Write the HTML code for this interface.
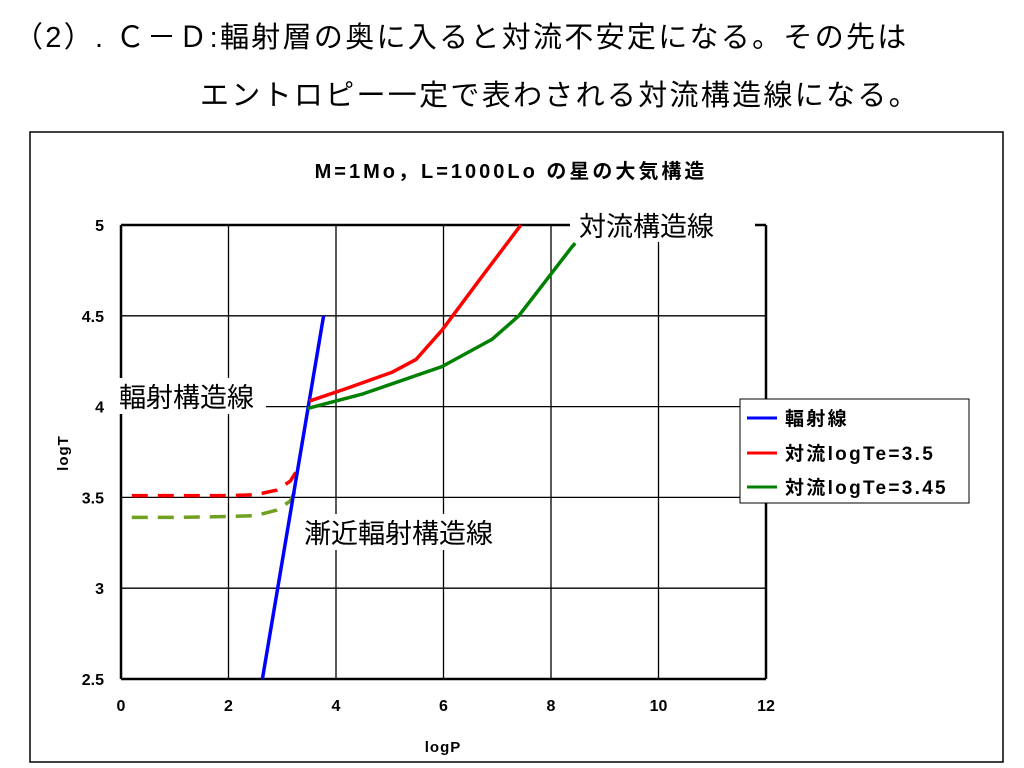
<!DOCTYPE html>
<html><head><meta charset="utf-8"><style>
body{margin:0;width:1024px;height:768px;background:#fff;overflow:hidden;font-family:"Liberation Sans","Noto Sans CJK JP",sans-serif;}
.h{position:absolute;font-size:29px;color:#000;white-space:nowrap;letter-spacing:2.3px;}
</style></head><body>
<div class="h" style="left:14px;top:14px;">（2）. Ｃ－Ｄ:輻射層の奥に入ると対流不安定になる。その先は</div>
<div class="h" style="left:200px;top:72px;">エントロピー一定で表わされる対流構造線になる。</div>
<svg width="1024" height="768" style="position:absolute;left:0;top:0">
<rect x="30" y="132" width="973" height="630" fill="none" stroke="#000" stroke-width="1.5"/>
<text x="511" y="178" text-anchor="middle" font-size="20" font-weight="bold" letter-spacing="3" font-family="Liberation Sans,Noto Sans CJK JP,sans-serif">M=1Mo，L=1000Lo の星の大気構造</text>
<g id="grid"></g><g id="axes"></g><g id="series"></g>
<text x="443" y="752" text-anchor="middle" font-size="15" font-weight="bold" letter-spacing="1" font-family="Liberation Sans,sans-serif">logP</text>
<text transform="translate(68,453) rotate(-90)" text-anchor="middle" font-size="15" font-weight="bold" letter-spacing="1" font-family="Liberation Sans,sans-serif">logT</text>
<g font-family="Liberation Sans,Noto Sans CJK JP,sans-serif" font-size="27">
<rect x="570" y="206" width="185" height="36" fill="#fff"/>
<text x="579" y="236">対流構造線</text>
<rect x="116" y="378" width="150" height="36" fill="#fff"/>
<text x="119" y="407">輻射構造線</text>
<rect x="300" y="514" width="210" height="36" fill="#fff"/>
<text x="304" y="543">漸近輻射構造線</text>
</g>
<g>
<rect x="740" y="399" width="229" height="104" fill="#fff" stroke="#000" stroke-width="1"/>
<line x1="747" y1="418" x2="777" y2="418" stroke="#0000ff" stroke-width="3"/>
<text x="785" y="425" font-size="19" font-weight="bold" letter-spacing="2.3" font-family="Liberation Sans,Noto Sans CJK JP,sans-serif">輻射線</text>
<line x1="747" y1="453" x2="777" y2="453" stroke="#ff0000" stroke-width="3"/>
<text x="785" y="460" font-size="19" font-weight="bold" letter-spacing="2.3" font-family="Liberation Sans,Noto Sans CJK JP,sans-serif">対流logTe=3.5</text>
<line x1="747" y1="487" x2="777" y2="487" stroke="#008000" stroke-width="3"/>
<text x="785" y="494" font-size="19" font-weight="bold" letter-spacing="2.3" font-family="Liberation Sans,Noto Sans CJK JP,sans-serif">対流logTe=3.45</text>
</g>
</svg>
<script>
const xTicks=[0,2,4,6,8,10,12];
const yTicks=[2.5,3,3.5,4,4.5,5];
const radP=[2.63,3.77], radT=[2.5,4.5];
const redP=[3.5,4.2,5.05,5.49,5.97,6.7,7.44], redT=[4.03,4.1,4.19,4.26,4.42,4.71,5.0];
const grnP=[3.47,4.5,5.97,6.9,7.4,8.39,8.45], grnT=[3.99,4.07,4.22,4.37,4.5,4.88,4.9];
const redDP=[0.2,1,2,2.5,2.9,3.15,3.32], redDT=[3.51,3.51,3.51,3.515,3.54,3.59,3.67];
const grnDP=[0.2,1,2,2.5,2.9,3.15,3.28], grnDT=[3.39,3.39,3.395,3.4,3.43,3.48,3.56];
const X=v=>121+v*(766-121)/12, Y=v=>679-(v-2.5)*(679-225)/2.5;
const NS='http://www.w3.org/2000/svg';
function mk(t,a,p){const e=document.createElementNS(NS,t);for(const k in a)e.setAttribute(k,a[k]);document.getElementById(p).appendChild(e);return e;}
xTicks.forEach(v=>{const l=mk('line',{x1:X(v),x2:X(v),y1:Y(5),y2:Y(2.5),stroke:'#000','stroke-width':(v==0||v==12)?2.5:1.3},'grid');


const t=mk('text',{x:X(v),y:Y(2.5)+32,'text-anchor':'middle','font-size':16,'font-weight':'bold','font-family':'Liberation Sans,sans-serif'},'axes');t.textContent=v;

});
yTicks.forEach(v=>{const l=mk('line',{x1:X(0),x2:X(12),y1:Y(v),y2:Y(v),stroke:'#000','stroke-width':(v==5||v==2.5)?2.5:1.3},'grid');


const t=mk('text',{x:104,y:Y(v)+6,'text-anchor':'end','font-size':16,'font-weight':'bold','font-family':'Liberation Sans,sans-serif'},'axes');t.textContent=v;

});
function line(P,T,c,name,dash){const d=P.map((p,i)=>(i?'L':'M')+X(p).toFixed(1)+','+Y(T[i]).toFixed(1)).join(' ');
const e=mk('path',{d:d,fill:'none',stroke:c,'stroke-width':3.5,'stroke-linejoin':'round'},'series');if(dash)e.setAttribute('stroke-dasharray','16,10');

}
line(redDP,redDT,'#ff0000','red-dashed-asymptote',1);
line(grnDP,grnDT,'#70a020','green-dashed-asymptote',1);
line(radP,radT,'#0000ff','radiative-line',0);
line(redP,redT,'#ff0000','convective-line-3-5',0);
line(grnP,grnT,'#008000','convective-line-3-45',0);
</script>
</body></html>
